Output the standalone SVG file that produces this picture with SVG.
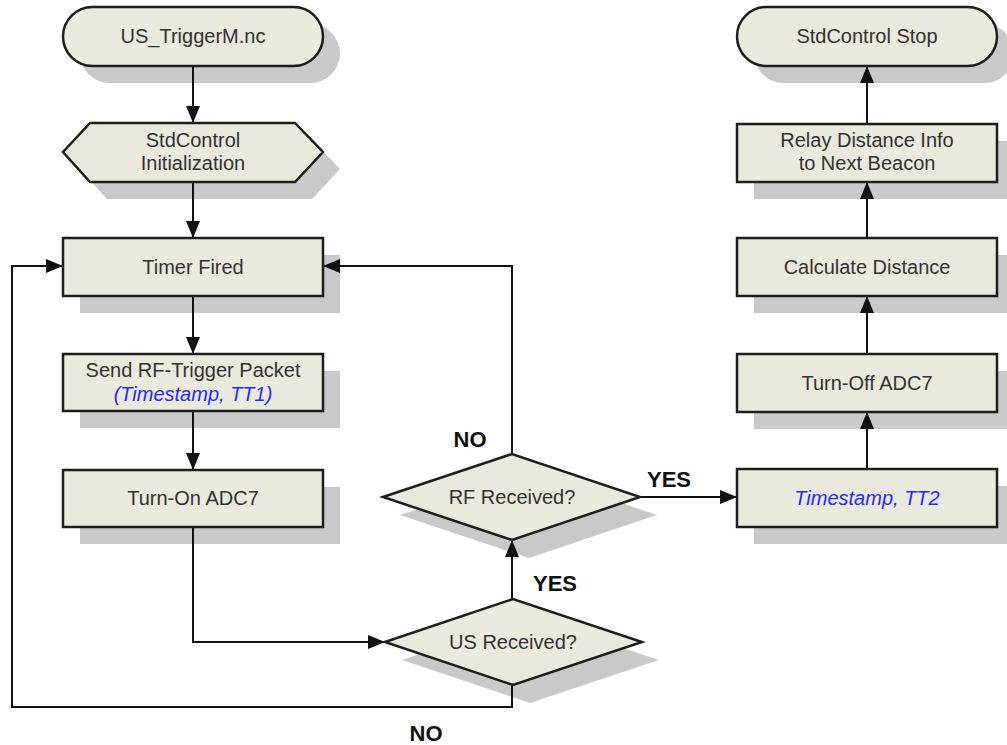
<svg xmlns="http://www.w3.org/2000/svg" width="1007" height="745" viewBox="0 0 1007 745">
  <style>
    .shape { fill: #e9e9dd; stroke: #1e1e1e; stroke-width: 2.5; }
    .shadow { fill: #c9c9c9; }
    .lbl { font-family: "Liberation Sans", Arial, sans-serif; font-size: 20px; fill: #333333; text-anchor: middle; }
    .ts { font-family: "Liberation Sans", Arial, sans-serif; font-size: 20px; fill: #2a2aff; font-style: italic; text-anchor: middle; }
    .edge { fill: none; stroke: #111111; stroke-width: 2; }
    .tag { font-family: "Liberation Sans", Arial, sans-serif; font-size: 22px; font-weight: bold; fill: #111111; text-anchor: middle; }
  </style>
  <defs>
    <marker id="arrow" markerUnits="userSpaceOnUse" markerWidth="17" markerHeight="14" refX="17" refY="7" orient="auto">
      <path d="M0,0 L17,7 L0,14 z" fill="#111111"/>
    </marker>
  </defs>
  <rect width="1007" height="745" fill="#ffffff"/>

  <!-- drop shadows -->
  <g id="shadows">
    <rect class="shadow" x="80" y="24" width="260" height="59" rx="29.5"/>
    <polygon class="shadow" points="80,169 107,140 312,140 340,169 312,199 107,199"/>
    <rect class="shadow" x="80" y="255" width="260" height="58"/>
    <rect class="shadow" x="80" y="371" width="260" height="57"/>
    <rect class="shadow" x="80" y="487" width="260" height="57"/>
    <polygon class="shadow" points="400,515 529,472 657,515 529,558"/>
    <polygon class="shadow" points="402,660 530,617 659,660 530,703"/>
    <rect class="shadow" x="754" y="24" width="260" height="59" rx="29.5"/>
    <rect class="shadow" x="754" y="141" width="260" height="58"/>
    <rect class="shadow" x="754" y="255" width="260" height="58"/>
    <rect class="shadow" x="754" y="371" width="260" height="58"/>
    <rect class="shadow" x="754" y="486" width="260" height="58"/>
  </g>

  <!-- connectors -->
  <g id="connectors">
    <path class="edge" d="M193,66 V123" marker-end="url(#arrow)"/>
    <path class="edge" d="M193,182 V238" marker-end="url(#arrow)"/>
    <path class="edge" d="M193,296 V354" marker-end="url(#arrow)"/>
    <path class="edge" d="M193,411 V470" marker-end="url(#arrow)"/>
    <path class="edge" d="M193,527 V642 H385" marker-end="url(#arrow)"/>
    <path class="edge" d="M512,685 V707 H12 V266 H63" marker-end="url(#arrow)"/>
    <path class="edge" d="M512,599 V540" marker-end="url(#arrow)"/>
    <path class="edge" d="M512,454 V266 H323" marker-end="url(#arrow)"/>
    <path class="edge" d="M640,497 H737" marker-end="url(#arrow)"/>
    <path class="edge" d="M867,469 V412" marker-end="url(#arrow)"/>
    <path class="edge" d="M867,354 V296" marker-end="url(#arrow)"/>
    <path class="edge" d="M867,238 V182" marker-end="url(#arrow)"/>
    <path class="edge" d="M867,124 V66" marker-end="url(#arrow)"/>
    <text class="tag" x="470" y="447">NO</text>
    <text class="tag" x="669" y="487">YES</text>
    <text class="tag" x="555" y="591">YES</text>
    <text class="tag" x="426" y="741">NO</text>
  </g>

  <!-- nodes -->
  <g id="start">
    <rect class="shape" x="63" y="7" width="260" height="59" rx="29.5"/>
    <text class="lbl" x="193" y="43">US_TriggerM.nc</text>
  </g>
  <g id="init">
    <polygon class="shape" points="63,152 90,123 295,123 323,152 295,182 90,182"/>
    <text class="lbl" x="193" y="147">StdControl</text>
    <text class="lbl" x="193" y="170">Initialization</text>
  </g>
  <g id="timer">
    <rect class="shape" x="63" y="238" width="260" height="58"/>
    <text class="lbl" x="193" y="274">Timer Fired</text>
  </g>
  <g id="send-rf">
    <rect class="shape" x="63" y="354" width="260" height="57"/>
    <text class="lbl" x="193" y="377">Send RF-Trigger Packet</text>
    <text class="ts" x="193" y="401">(Timestamp, TT1)</text>
  </g>
  <g id="adc-on">
    <rect class="shape" x="63" y="470" width="260" height="57"/>
    <text class="lbl" x="193" y="505">Turn-On ADC7</text>
  </g>
  <g id="rf-received">
    <polygon class="shape" points="383,497 512,454 640,497 512,540"/>
    <text class="lbl" x="512" y="504">RF Received?</text>
  </g>
  <g id="us-received">
    <polygon class="shape" points="385,642 513,599 642,642 513,685"/>
    <text class="lbl" x="513" y="649">US Received?</text>
  </g>
  <g id="stop">
    <rect class="shape" x="737" y="7" width="260" height="59" rx="29.5"/>
    <text class="lbl" x="867" y="43">StdControl Stop</text>
  </g>
  <g id="relay">
    <rect class="shape" x="737" y="124" width="260" height="58"/>
    <text class="lbl" x="867" y="147">Relay Distance Info</text>
    <text class="lbl" x="867" y="170">to Next Beacon</text>
  </g>
  <g id="distance">
    <rect class="shape" x="737" y="238" width="260" height="58"/>
    <text class="lbl" x="867" y="274">Calculate Distance</text>
  </g>
  <g id="adc-off">
    <rect class="shape" x="737" y="354" width="260" height="58"/>
    <text class="lbl" x="867" y="390">Turn-Off ADC7</text>
  </g>
  <g id="tt2">
    <rect class="shape" x="737" y="469" width="260" height="58"/>
    <text class="ts" x="867" y="505">Timestamp, TT2</text>
  </g>
</svg>
